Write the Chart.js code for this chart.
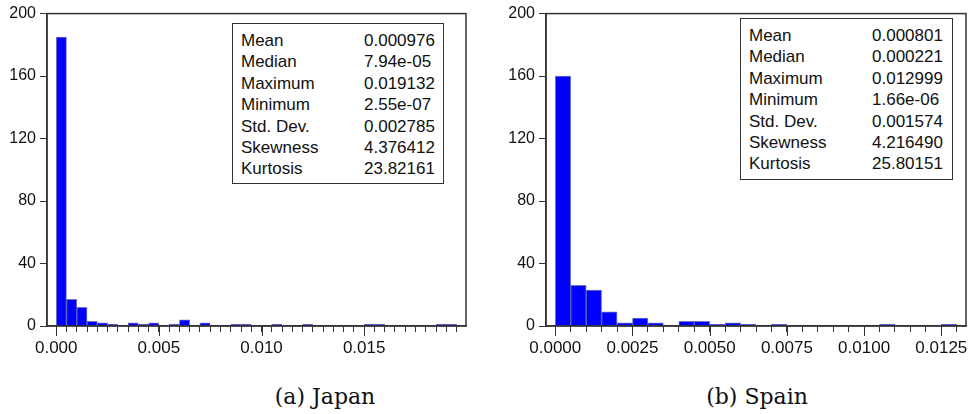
<!DOCTYPE html>
<html>
<head>
<meta charset="utf-8">
<script src="https://cdn.jsdelivr.net/npm/chart.js@4.4.0/dist/chart.umd.min.js"></script>
<style>
  body { margin: 0; background: #fff; width: 971px; height: 414px; position: relative; overflow: hidden; font-family: "Liberation Sans", Arial, sans-serif; }
  canvas { position: absolute; top: 0; }
  .stats { position: absolute; box-sizing: border-box; border: 1px solid #333; background: #fff; padding: 6px 0 0 8px; font-size: 17px; line-height: 21.4px; color: #111; }
  .stats div { display: flex; white-space: nowrap; }
  .stats span:first-child { width: 123px; }
  .caption { position: absolute; top: 384px; font-family: "DejaVu Serif", serif; font-size: 22px; transform: translateX(-50%); white-space: nowrap; color: #111; }
</style>
</head>
<body>
<canvas id="japanChart" width="480" height="370" style="left:0"></canvas>
<canvas id="spainChart" width="471" height="370" style="left:500px"></canvas>

<div class="stats" id="japanStats" style="left:232px; top:23px; width:212px; height:161px;"></div>
<div class="stats" id="spainStats" style="left:740px; top:18px; width:213px; height:162px;"></div>

<div class="caption" style="left:325px">(a) Japan</div>
<div class="caption" style="left:757px">(b) Spain</div>

<script>
// histogram bins start at 0, each 0.0005 wide
const BIN_WIDTH = 0.0005;
const japanCounts = [185, 17, 12, 3, 2, 1, 0, 2, 1, 2, 0, 1, 4, 0, 2, 0, 0, 1, 1, 0, 0, 1, 0, 0, 1, 0, 0, 0, 0, 0, 1, 1, 0, 0, 0, 0, 0, 1, 1];
const spainCounts = [160, 26, 23, 9, 2, 5, 2, 0, 3, 3, 1, 2, 1, 0, 1, 0, 0, 0, 0, 0, 0, 1, 0, 0, 0, 1];

const japanXTicks = [0, 0.005, 0.010, 0.015];
const japanXLabels = ['0.000', '0.005', '0.010', '0.015'];
const spainXTicks = [0, 0.0025, 0.0050, 0.0075, 0.0100, 0.0125];
const spainXLabels = ['0.0000', '0.0025', '0.0050', '0.0075', '0.0100', '0.0125'];
const yTicks = [0, 40, 80, 120, 160, 200];

const statNames = ['Mean', 'Median', 'Maximum', 'Minimum', 'Std. Dev.', 'Skewness', 'Kurtosis'];
const japanStats = ['0.000976', '7.94e-05', '0.019132', '2.55e-07', '0.002785', '4.376412', '23.82161'];
const spainStats = ['0.000801', '0.000221', '0.012999', '1.66e-06', '0.001574', '4.216490', '25.80151'];

function fillStats(id, values) {
  document.getElementById(id).innerHTML = statNames.map((name, i) =>
    `<div><span>${name}</span><span>${values[i]}</span></div>`).join('');
}
fillStats('japanStats', japanStats);
fillStats('spainStats', spainStats);

Chart.defaults.font.family = '"Liberation Sans", Arial, sans-serif';

// box around the plot area and longer ticks at the labelled values
const framePlugin = {
  id: 'frame',
  afterDraw(chart, args, opts) {
    const { ctx, chartArea: a } = chart;
    const xs = chart.scales.x;
    ctx.save();
    ctx.strokeStyle = '#333';
    ctx.lineWidth = 1.5;
    ctx.strokeRect(a.left, a.top, a.right - a.left, a.bottom - a.top);
    ctx.lineWidth = 1;
    ctx.beginPath();
    opts.majors.forEach(v => {
      const px = Math.round(xs.getPixelForValue(v)) + 0.5;
      ctx.moveTo(px, xs.top);
      ctx.lineTo(px, xs.top + 10);
    });
    ctx.stroke();
    ctx.restore();
  }
};

function makeHistogram(id, counts, majors, labels, xMin, xMax, yWidth, rightPad) {
  const edges = [];
  for (let i = 0; i <= counts.length; i++) edges.push(+(i * BIN_WIDTH).toFixed(6));

  return new Chart(document.getElementById(id), {
    type: 'bar',
    data: {
      datasets: [{
        data: counts.map((c, i) => ({ x: (i + 0.5) * BIN_WIDTH, y: c || null })),
        backgroundColor: '#0000ff',
        borderColor: 'rgba(0, 0, 150, 0.55)',
        borderWidth: 1,
        barPercentage: 1,
        categoryPercentage: 1
      }]
    },
    options: {
      responsive: false,
      animation: false,
      layout: { padding: { top: 12, right: rightPad, left: 0, bottom: 0 } },
      plugins: {
        legend: { display: false },
        tooltip: { enabled: false },
        frame: { majors: majors }
      },
      scales: {
        x: {
          type: 'linear',
          min: xMin,
          max: xMax,
          offset: false,
          grid: { offset: false, drawOnChartArea: false, tickLength: 6, tickColor: '#333' },
          border: { color: '#333', width: 1.5 },
          ticks: {
            autoSkip: false,
            maxRotation: 0,
            padding: 6,
            color: '#111',
            font: { size: 17 },
            callback: (value) => {
              const k = majors.findIndex(m => Math.abs(m - value) < 1e-9);
              return k >= 0 ? labels[k] : '';
            }
          },
          afterBuildTicks: s => { s.ticks = edges.map(v => ({ value: v })); },
          afterFit: s => { s.height = 44; }
        },
        y: {
          min: 0,
          max: 200,
          grid: { drawOnChartArea: false, tickLength: 7, tickColor: '#333' },
          border: { color: '#333', width: 1.5 },
          ticks: { padding: 4, color: '#111', font: { size: 16 } },
          afterBuildTicks: s => { s.ticks = yTicks.map(v => ({ value: v })); },
          afterFit: s => { s.width = yWidth; }
        }
      }
    },
    plugins: [framePlugin]
  });
}

makeHistogram('japanChart', japanCounts, japanXTicks, japanXLabels, -0.00045, 0.01996, 47, 14);
makeHistogram('spainChart', spainCounts, spainXTicks, spainXLabels, -0.0003, 0.0133, 46, 5);
</script>
</body>
</html>
